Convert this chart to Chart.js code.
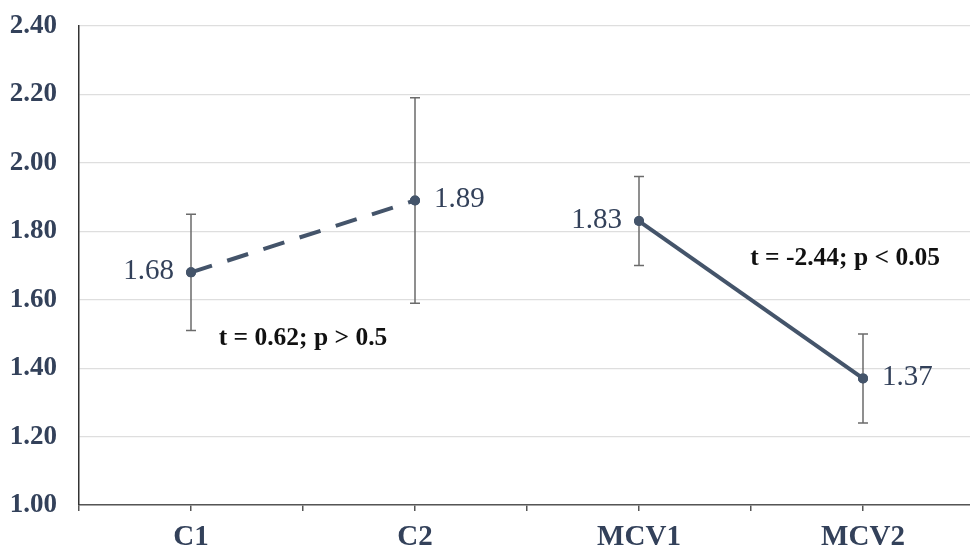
<!DOCTYPE html>
<html>
<head>
<meta charset="utf-8">
<script src="https://cdn.jsdelivr.net/npm/chart.js@4/dist/chart.umd.min.js"></script>
<style>
  html, body { margin: 0; padding: 0; overflow: hidden; background: #fff; }
  canvas { display: block; }
</style>
</head>
<body>
<canvas id="c" width="980" height="550"></canvas>
<script>
const categories = ["C1", "C2", "MCV1", "MCV2"];
const means = [1.68, 1.89, 1.83, 1.37];
const lower = [1.51, 1.59, 1.70, 1.24];
const upper = [1.85, 2.19, 1.96, 1.50];
const yTicks = [1.00, 1.20, 1.40, 1.60, 1.80, 2.00, 2.20, 2.40];
const testLabels = ["t = 0.62; p > 0.5", "t = -2.44; p < 0.05"];

const LINE = "#44546a";
const TEXT = "#33415a";
const SERIF = "'Liberation Serif', 'Times New Roman', serif";

const pts = means.map((v, i) => ({ x: i, y: v }));

const errPlugin = {
  id: "errbars",
  afterDatasetsDraw(chart) {
    const { ctx, scales: { x, y } } = chart;
    ctx.save();
    ctx.strokeStyle = "#6b6b6b";
    ctx.lineWidth = 1.5;
    for (let i = 0; i < means.length; i++) {
      const px = x.getPixelForValue(i);
      const lo = y.getPixelForValue(lower[i]);
      const hi = y.getPixelForValue(upper[i]);
      ctx.beginPath();
      ctx.moveTo(px, lo); ctx.lineTo(px, hi);
      ctx.moveTo(px - 5, lo); ctx.lineTo(px + 5, lo);
      ctx.moveTo(px - 5, hi); ctx.lineTo(px + 5, hi);
      ctx.stroke();
    }
    ctx.fillStyle = LINE;
    for (let i = 0; i < means.length; i++) {
      ctx.beginPath();
      ctx.arc(x.getPixelForValue(i), y.getPixelForValue(means[i]), 5, 0, Math.PI * 2);
      ctx.fill();
    }
    ctx.font = "29px " + SERIF;
    ctx.fillStyle = TEXT;
    ctx.textBaseline = "middle";
    for (let i = 0; i < means.length; i++) {
      const px = x.getPixelForValue(i);
      const py = y.getPixelForValue(means[i]);
      const leftSide = i % 2 === 0;
      ctx.textAlign = leftSide ? "right" : "left";
      ctx.fillText(means[i].toFixed(2), px + (leftSide ? -17 : 19), py - 1);
    }
    ctx.font = "bold 25.5px " + SERIF;
    ctx.fillStyle = "#111";
    ctx.textAlign = "center";
    ctx.fillText(testLabels[0], x.getPixelForValue(0.5), y.getPixelForValue(1.488));
    ctx.fillText(testLabels[1], x.getPixelForValue(2.92), y.getPixelForValue(1.722));
    ctx.restore();
  }
};

new Chart(document.getElementById("c"), {
  type: "line",
  data: {
    datasets: [
      {
        data: pts.slice(0, 2),
        borderColor: LINE,
        backgroundColor: LINE,
        borderWidth: 4,
        borderDash: [22, 16],
        pointRadius: 5,
        pointBackgroundColor: LINE,
        pointBorderWidth: 0
      },
      {
        data: pts.slice(2, 4),
        borderColor: LINE,
        backgroundColor: LINE,
        borderWidth: 4,
        pointRadius: 5,
        pointBackgroundColor: LINE,
        pointBorderWidth: 0
      }
    ]
  },
  options: {
    responsive: false,
    animation: false,
    layout: { padding: { top: 26, right: 1, left: 0, bottom: 0 } },
    plugins: { legend: { display: false }, tooltip: { enabled: false } },
    scales: {
      x: {
        type: "linear",
        min: -0.5,
        max: 3.5,
        afterBuildTicks(scale) {
          const t = [];
          for (let v = -0.5; v <= 3.5; v += 0.5) t.push({ value: v });
          scale.ticks = t;
        },
        afterFit(scale) {
          scale.height = 45;
          scale.paddingLeft = 0;
          scale.paddingRight = 0;
        },
        ticks: {
          autoSkip: false,
          maxRotation: 0,
          padding: 9,
          color: TEXT,
          font: { family: SERIF, size: 29, weight: "bold" },
          callback: (v) => Number.isInteger(v) ? categories[v] : ""
        },
        grid: { drawOnChartArea: false, drawTicks: true, tickLength: 6, color: "#555", lineWidth: 1.5 },
        border: { color: "#555", width: 1.5 }
      },
      y: {
        min: 1.0,
        max: 2.4,
        afterBuildTicks(scale) { scale.ticks = yTicks.map(v => ({ value: v })); },
        afterFit(scale) {
          scale.width = 79;
          scale.paddingTop = 0;
          scale.paddingBottom = 0;
        },
        ticks: {
          padding: 22,
          color: TEXT,
          font: { family: SERIF, size: 27, weight: "bold" },
          callback: (v) => Number(v).toFixed(2)
        },
        grid: { color: "#dedede", lineWidth: 1.2, drawTicks: false },
        border: { color: "#333", width: 1.5 }
      }
    }
  },
  plugins: [errPlugin]
});
</script>
</body>
</html>
